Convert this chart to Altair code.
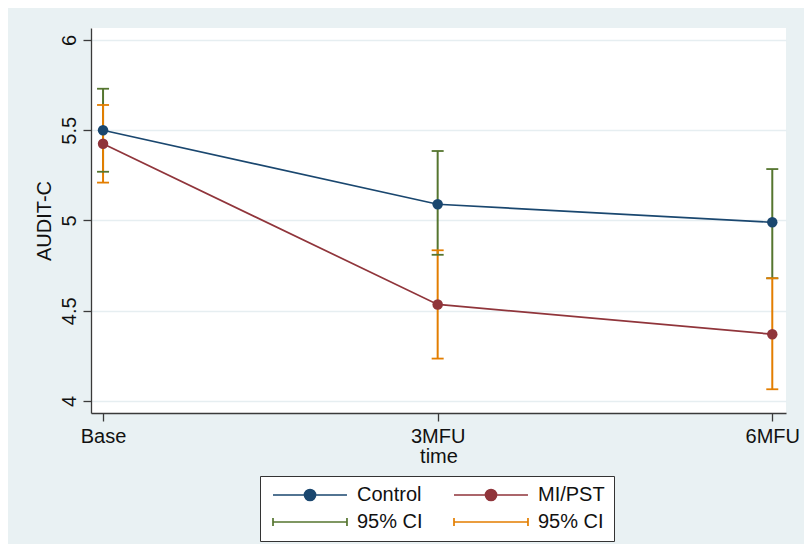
import json
import altair as alt
import pandas as pd

# ---- data ----
times = ["Base", "3MFU", "6MFU"]
time_index = [0, 1, 2]
control_mean = [5.50, 5.09, 4.99]
control_lo = [5.27, 4.81, 4.68]
control_hi = [5.73, 5.385, 5.285]
mipst_mean = [5.425, 4.535, 4.37]
mipst_lo = [5.21, 4.235, 4.065]
mipst_hi = [5.64, 4.835, 4.68]
y_ticks = [4, 4.5, 5, 5.5, 6]

series_names = ["Control", "MI/PST", "CI Control", "CI MI/PST"]
ci_names = ["CI Control", "CI MI/PST"]
ci_label = "95% CI"
series_colors = ["#1a476f", "#90353b", "#55752f", "#e37e00"]

# ---- tables ----
means = pd.DataFrame({
    "t": time_index * 2,
    "value": control_mean + mipst_mean,
    "series": ["Control"] * 3 + ["MI/PST"] * 3,
})
ci = pd.DataFrame({
    "t": time_index * 2,
    "lo": control_lo + mipst_lo,
    "hi": control_hi + mipst_hi,
    "series": ["CI Control"] * 3 + ["CI MI/PST"] * 3,
})

FONT = "Liberation Sans"
TXT = "#111111"
AX = "#3a3a3a"
FS = 20

# legend key glyphs (unit = 6 px with symbolSize 144)
line_path = "M-1,0L11.33,0M6.09,0A0.92,0.92,0,1,1,4.25,0A0.92,0.92,0,1,1,6.09,0Z"
ci_path = "M-1,-0.67L-1,0.67M-1,0L11.33,0M11.33,-0.67L11.33,0.67"
is_ci = "indexof(" + json.dumps(ci_names) + ", datum.value) >= 0"
is_ci_lab = "indexof(" + json.dumps(ci_names) + ", datum.label) >= 0"

legend = alt.Legend(
    title=None,
    orient="none",
    legendX=169,
    legendY=448,
    columns=2,
    direction="horizontal",
    padding=9,
    strokeColor="#333333",
    fillColor="white",
    labelFont=FONT,
    labelFontSize=FS,
    labelColor=TXT,
    labelOffset=68,
    columnPadding=27,
    rowPadding=7,
    symbolSize=144,
    symbolStrokeWidth=1.7,
    symbolOpacity=1,
    symbolType={"expr": is_ci + " ? '" + ci_path + "' : '" + line_path + "'"},
    symbolFillColor={"expr": "scale('color', datum.value)"},
    symbolStrokeColor={"expr": "scale('color', datum.value)"},
    labelExpr=is_ci_lab + " ? '" + ci_label + "' : datum.label",
)

color_scale = alt.Scale(domain=series_names, range=series_colors)

x_enc = alt.X(
    "t:Q",
    scale=alt.Scale(domain=[-0.036, 2.041], nice=False, zero=False),
    axis=alt.Axis(
        values=time_index,
        labelExpr=json.dumps(times) + "[datum.value]",
        title="time",
        grid=False,
        tickSize=8,
        labelPadding=5,
        titlePadding=0,
        labelFlush=False,
    ),
)
y_scale = alt.Scale(domain=[3.9335, 6.0665], nice=False, zero=False)
y_axis = alt.Axis(
    values=y_ticks,
    format="~g",
    title="AUDIT-C",
    labelAngle=270,
    labelAlign="center",
    labelBaseline="bottom",
    tickSize=8,
    labelPadding=4,
    titlePadding=5,
    grid=True,
)

base_ci = alt.Chart(ci).encode(
    x=x_enc,
    color=alt.Color("series:N", scale=color_scale, legend=legend),
)
ci_rule = base_ci.mark_rule(strokeWidth=2).encode(
    y=alt.Y("lo:Q", scale=y_scale, axis=y_axis), y2="hi:Q"
)
ci_lo = base_ci.mark_tick(orient="horizontal", size=12, thickness=1.8, opacity=1).encode(
    y=alt.Y("lo:Q", scale=y_scale)
)
ci_hi = base_ci.mark_tick(orient="horizontal", size=12, thickness=1.8, opacity=1).encode(
    y=alt.Y("hi:Q", scale=y_scale)
)

base_m = alt.Chart(means).encode(
    x=x_enc,
    y=alt.Y("value:Q", scale=y_scale),
    color=alt.Color("series:N", scale=color_scale),
)
lines = base_m.mark_line(strokeWidth=1.7)
points = base_m.mark_circle(size=110, opacity=1)

chart = (
    alt.layer(ci_rule, ci_lo, ci_hi, lines, points)
    .properties(
        width=695,
        height=385,
        padding={"left": 83, "top": 20, "right": 18, "bottom": 131},
        autosize=alt.AutoSizeParams(type="none"),
        background="#e9f1f3",
    )
    .configure_view(fill="white", strokeWidth=0)
    .configure_axis(
        labelFont=FONT,
        titleFont=FONT,
        labelFontSize=FS,
        titleFontSize=FS,
        titleFontWeight="normal",
        labelColor=TXT,
        titleColor=TXT,
        domainColor=AX,
        tickColor=AX,
        domainWidth=1.3,
        tickWidth=1.3,
        gridColor="#e6eef1",
        gridWidth=1.5,
    )
)

chart.save("out.html", embed_options={"renderer": "svg", "actions": False})
